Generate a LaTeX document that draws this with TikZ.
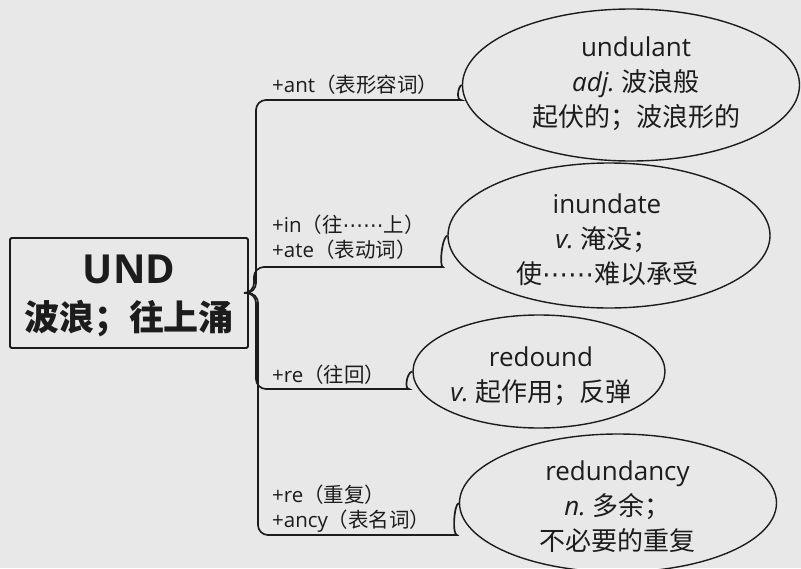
\documentclass[tikz,border=0pt]{standalone}
\usepackage{fontspec}
\setmainfont{Open Sans}
\newfontfamily\cjk{Noto Sans CJK SC}
\newfontfamily\dvs{DejaVu Sans}
\usetikzlibrary{shapes.geometric}
\definecolor{bg}{RGB}{232,232,232}
\definecolor{ink}{RGB}{28,28,28}
\newcommand{\middots}{{\dvs ⋯⋯}}
\begin{document}
\begin{tikzpicture}[x=1pt,y=-1pt,
  conn/.style={draw=ink, line width=1.7pt},
  word/.style={ellipse, draw=ink, line width=1.4pt, inner sep=0pt},
  wtext/.style={align=center, font=\fontsize{26}{35}\selectfont, text=ink, inner sep=0pt},
  lab/.style={anchor=base west, font=\fontsize{20.5}{25}\selectfont, text=ink, inner sep=0pt}]
\fill[bg] (0,0) rectangle (801,568);
\useasboundingbox (0,0) rectangle (801,568);

% root
\node[draw=ink, line width=1.8pt, minimum width=238pt, minimum height=110pt, rounded corners=1.5pt] (root) at (129,293) {};
\node[anchor=base, inner sep=0pt, text=ink, font=\bfseries\fontsize{40}{46}\selectfont] (rootA) at (129,283) {UND};
\node[anchor=base, inner sep=0pt, text=ink, font=\cjk\bfseries\fontsize{35}{40}\selectfont] (rootB) at (129,330) {波浪；往上涌};

% ellipses
\node[word, minimum width=337pt, minimum height=152pt] (e1) at (631,85) {};
\node[wtext] (t1) at (636,84) {undulant\\\textit{adj.}\ {\cjk 波浪般}\\{\cjk 起伏的；波浪形的}};

\node[word, minimum width=322pt, minimum height=145pt] (e2) at (609,235.5) {};
\node[wtext] (t2) at (607,240) {inundate\\\textit{v.}\ {\cjk 淹没；}\\{\cjk 使}\middots{\cjk 难以承受}};

\node[word, minimum width=252pt, minimum height=113pt] (e3) at (539,371.5) {};
\node[wtext] (t3) at (541,376) {redound\\\textit{v.}\ {\cjk 起作用；反弹}};

\node[word, minimum width=317pt, minimum height=138pt] (e4) at (618,503) {};
\node[wtext] (t4) at (617.5,507) {redundancy\\\textit{n.}\ {\cjk 多余；}\\{\cjk 不必要的重复}};

% labels
\node[lab] (l1) at (272,92) {+ant{\cjk （表形容词）}};
\node[lab] (l2a) at (272,232) {+in{\cjk （往}\middots{\cjk 上）}};
\node[lab] (l2b) at (272,257) {+ate{\cjk （表动词）}};
\node[lab] (l3) at (272,382) {+re{\cjk （往回）}};
\node[lab] (l4a) at (272,502) {+re{\cjk （重复）}};
\node[lab] (l4b) at (272,527) {+ancy{\cjk （表名词）}};

% connectors
\draw[conn] (root.east) [rounded corners=10pt] -- (256,293) -- (256,100) -- (451,100) [sharp corners] .. controls (456,100) and (458,86) .. (e1.west);
\draw[conn] (root.east) [rounded corners=10pt] -- (254,293) -- (254,267) -- (433,267) [sharp corners] .. controls (439,267) and (442,237) .. (e2.west);
\draw[conn] (root.east) [rounded corners=10pt] -- (256,293) -- (256,389) -- (399,389) [sharp corners] .. controls (404,389) and (407,372) .. (e3.west);
\draw[conn] (root.east) [rounded corners=10pt] -- (258,293) -- (258,535) -- (447,535) [sharp corners] .. controls (452,535) and (454,504) .. (e4.west);
\end{tikzpicture}
\end{document}
